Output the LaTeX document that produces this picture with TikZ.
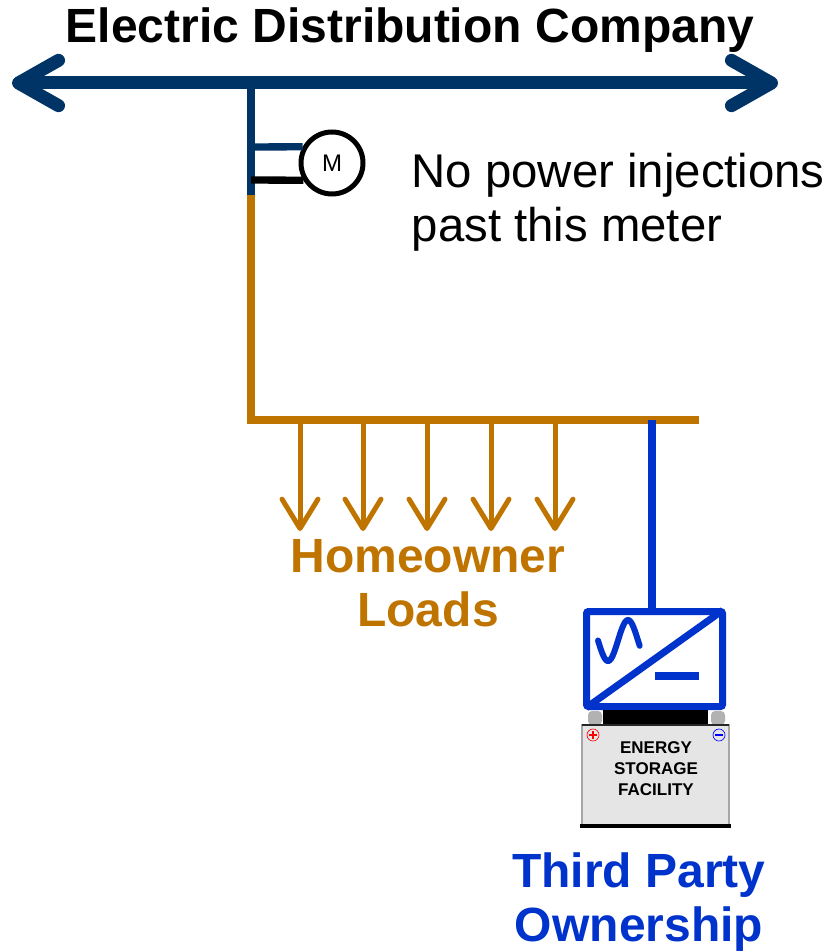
\documentclass[tikz,border=0pt]{standalone}
\usepackage{fontspec}
\setmainfont{Liberation Sans}
\usetikzlibrary{arrows.meta}
\definecolor{gridnavy}{RGB}{0,51,102}
\definecolor{homeorange}{RGB}{192,116,0}
\definecolor{tpblue}{RGB}{0,51,204}
\begin{document}
\begin{tikzpicture}[x=0.75pt,y=-0.75pt,
  bigtext/.style={font=\fontsize{35.5}{41}\selectfont},
  bigbold/.style={font=\bfseries\fontsize{36}{40}\selectfont},
  feeder/.style={line width=5.5pt},
  bustip/.tip={Straight Barb[length=30pt,width=34pt,round]},
  loadarrow/.style={color=homeorange,line width=3.75pt,-{Straight Barb[length=22pt,width=27pt,round]}}]
  \useasboundingbox (0,0) rectangle (830,952);

  \node[bigbold,anchor=base] (title) at (410,43) {Electric Distribution Company};
  \coordinate (busL) at (12,83);
  \coordinate (busR) at (778,83);
  \draw[gridnavy,line width=9.75pt,bustip-bustip] (busL) -- (busR);

  % meter tap
  \coordinate (tap) at (251,83);
  \coordinate (split) at (251,195);
  \coordinate (mtop) at (251,147);
  \coordinate (mbot) at (251,180);
  \coordinate (busend) at (699,420);
  \node[draw,circle,line width=3.75pt,minimum size=46.5pt,inner sep=0pt,font=\fontsize{18}{18}\selectfont] (meter) at (332,163) {M};
  \draw[feeder,gridnavy] (tap) -- (split);
  \draw[feeder,gridnavy] (mtop) -- (meter.151);
  \draw[feeder,black] (mbot) -- (meter.211);
  \draw[feeder,homeorange] (split) |- (busend);
  \node[bigtext,anchor=base west,align=left] (note) at (407,242) {No power injections\\past this meter};

  \foreach \i/\x in {1/300,2/363,3/427,4/491,5/555} {
    \coordinate (drop\i) at (\x,420);
    \coordinate (load\i) at (\x,531);
    \draw[loadarrow] (drop\i) -- (load\i);
  }
  \node[bigbold,text=homeorange,anchor=base,align=center] (loads) at (428,626) {Homeowner\\Loads};

  % inverter
  \node[draw=tpblue,line width=5.25pt,rounded corners=1.5pt,minimum width=102pt,minimum height=71.25pt,inner sep=0pt] (inv) at (654.5,659) {};
  \coordinate (invtap) at (652,420);
  \draw[feeder,tpblue] (invtap) -- (invtap |- inv.north);
  \draw[tpblue,line width=5.25pt,shorten <=3pt,shorten >=3pt] (inv.south west) -- (inv.north east);
  \draw[tpblue,line width=4.5pt,line cap=round] plot[smooth,domain=0:375,samples=40] ({598+\x/9},{640.5+20.5*sin(\x)});
  \draw[tpblue,line width=6pt] (655,676) -- (699,676);

  % battery
  \fill[gray!60,rounded corners=3pt] (588,725) rectangle (602,711);
  \fill[gray!60,rounded corners=3pt] (711,725) rectangle (725,711);
  \fill[black] (603,710) rectangle (708,725);
  \draw[gray!70,fill=gray!20,line width=1.2pt] (582,725) rectangle (729,826);
  \draw[black!85,line width=2.2pt] (582,725) -- (729,725);
  \draw[black,line width=2.5pt] (580,826) -- (731,826);
  \draw[red,line width=0.5pt] (593,735) circle (6);
  \draw[red,line width=0.8pt] (589,735) -- (597,735) (593,731) -- (593,739);
  \draw[blue,line width=0.5pt] (719,735) circle (6);
  \draw[blue,line width=1.2pt] (715,735) -- (723,735);
  \node[font=\bfseries\fontsize{12.75}{15.4}\selectfont,align=center,anchor=base] (ess) at (656,795) {ENERGY\\STORAGE\\FACILITY};

  \node[bigbold,text=tpblue,anchor=base,align=center] (owner) at (639,941) {Third Party\\Ownership};
\end{tikzpicture}
\end{document}
